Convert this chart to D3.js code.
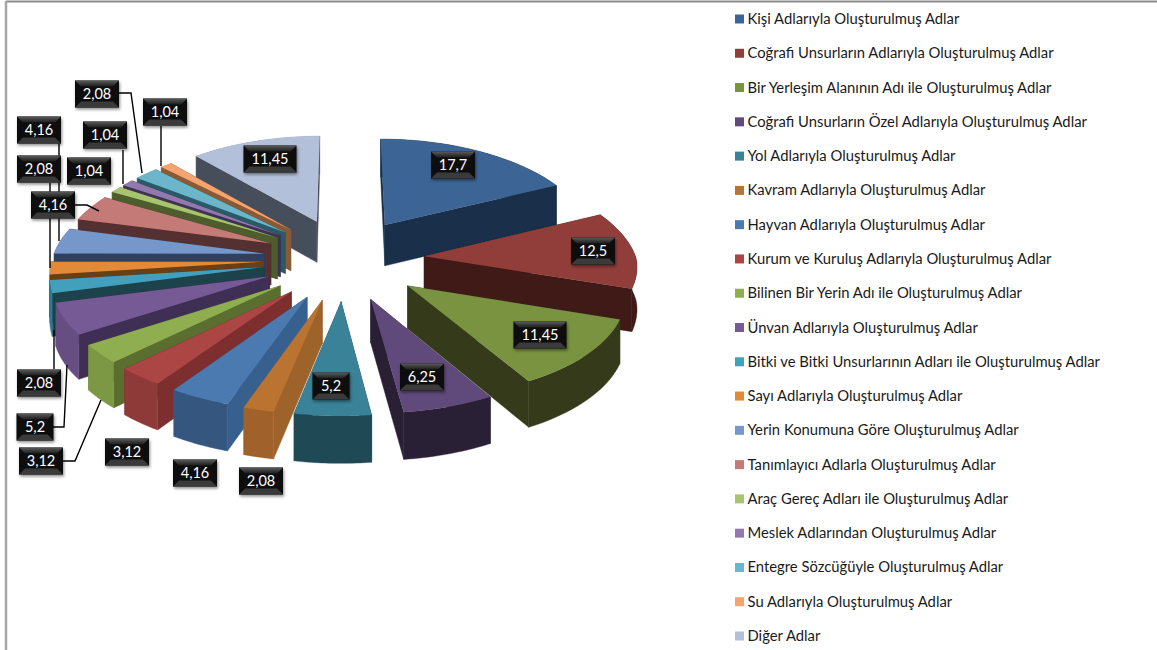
<!DOCTYPE html>
<html>
<head>
<meta charset="utf-8">
<script src="https://d3js.org/d3.v7.min.js"></script>
<style>
  body { margin: 0; background: #fff; }
  text { font-family: Lato, "Open Sans", sans-serif; }
</style>
</head>
<body>
<script>
let w = 1157;
let h = 650;

// data
const categories = [
  "Kişi Adlarıyla Oluşturulmuş Adlar",
  "Coğrafi Unsurların Adlarıyla Oluşturulmuş Adlar",
  "Bir Yerleşim Alanının Adı ile Oluşturulmuş Adlar",
  "Coğrafi Unsurların Özel Adlarıyla Oluşturulmuş Adlar",
  "Yol Adlarıyla Oluşturulmuş Adlar",
  "Kavram Adlarıyla Oluşturulmuş Adlar",
  "Hayvan Adlarıyla Oluşturulmuş Adlar",
  "Kurum ve Kuruluş Adlarıyla Oluşturulmuş Adlar",
  "Bilinen Bir Yerin Adı ile Oluşturulmuş Adlar",
  "Ünvan Adlarıyla Oluşturulmuş Adlar",
  "Bitki ve Bitki Unsurlarının Adları ile Oluşturulmuş Adlar",
  "Sayı Adlarıyla Oluşturulmuş Adlar",
  "Yerin Konumuna Göre Oluşturulmuş Adlar",
  "Tanımlayıcı Adlarla Oluşturulmuş Adlar",
  "Araç Gereç Adları ile Oluşturulmuş Adlar",
  "Meslek Adlarından Oluşturulmuş Adlar",
  "Entegre Sözcüğüyle Oluşturulmuş Adlar",
  "Su Adlarıyla Oluşturulmuş Adlar",
  "Diğer Adlar"
];
const values = [17.7, 12.5, 11.45, 6.25, 5.2, 2.08, 4.16, 3.12, 3.12, 5.2, 2.08, 2.08, 4.16, 4.16, 1.04, 1.04, 2.08, 1.04, 11.45];

// colours: top face, flat side, rounded side
const topColors = ["#3c6596", "#913e3b", "#7a9340", "#5f4a7b", "#3a8298", "#bb7331", "#4a7ab0", "#ab4644", "#8fae50", "#765a96", "#42a0bc", "#e28a37", "#7597c9", "#c47b78", "#a8c46f", "#9179ae", "#6cb6cc", "#f5a46f", "#b2c0da"];
const wallColors = ["#1a2f49", "#3f1a16", "#353a1b", "#2a2036", "#1f4a55", "#9e632a", "#38608e", "#7c2f2e", "#5a6e30", "#3f2f55", "#1c434c", "#6b3f15", "#2f4060", "#553030", "#4d5d2e", "#3f3256", "#2a5a68", "#8a5a37", "#464e5c"];
const arcColors = ["#1a2f49", "#3f1a16", "#353a1b", "#2a2036", "#1f4a55", "#a0612b", "#35577f", "#8e3a38", "#7c9845", "#664e82", "#2d7a90", "#c47a30", "#5f7ca8", "#a96663", "#8da65c", "#7a6595", "#5a9cb0", "#d08a5c", "#96a4bd"];

// label box centres and their leader lines, placed by hand like in the original
const labelPos = [[453,165],[593,251],[540,335],[422,377],[331,386],[261,481],[195,473],[127,452],[41,461],[35,427],[39,383],[39,169],[39,130],[53,205],[89,171],[105,135],[97,94],[165,112],[270,159]];
const leaders = [null,null,null,null,null,null,null,null,
  [[63,461],[75,461],[101,400]],
  [[53,427],[64,427],[67,365]],
  [[54,369],[54,330]],
  [[50,183],[50,268]],
  [[59,143],[59,241]],
  [[75,205],[87,205],[99,211]],
  null,
  [[123,150],[123,184]],
  [[118,93],[131,93],[142,173]],
  [[161,126],[161,166]],
  null];

// geometry of the exploded pie
let explodeX = 0.38;
let explodeV = 0.42;
let persp = 0.08;
let perspBack = 0.12;
let depth = 42;
let xScale = d3.scaleLinear().domain([0, 1]).range([344, 556]);
let yScale = d3.scaleLinear().domain([0, 1]).range([259, 161]);

function project(x, v, low) {
  let s = 1 / (1 + persp * v);
  let sx = v > 0 ? 1 / (1 + perspBack * v) : s;
  return [xScale(x * sx), yScale(v * s) + (low ? depth * s : 0)];
}

let viz = d3.select("body").append("svg")
    .attr("width", w)
    .attr("height", h)
    .style("display", "block")
;

// frame
viz.append("line").attr("x1", 6).attr("x2", w).attr("y1", 1.5).attr("y2", 1.5)
    .attr("stroke", "#8c8c8c").attr("stroke-width", 2);
viz.append("line").attr("x1", 6).attr("x2", 6).attr("y1", 1).attr("y2", h)
    .attr("stroke", "#a6a6a6").attr("stroke-width", 2.5);

let defs = viz.append("defs");
let shadow = defs.append("filter").attr("id", "shadow")
    .attr("x", "-20%").attr("y", "-20%").attr("width", "140%").attr("height", "150%");
shadow.append("feDropShadow").attr("dx", 1).attr("dy", 2).attr("stdDeviation", 1.5)
    .attr("flood-color", "#000").attr("flood-opacity", 0.45);
let grad = defs.append("linearGradient").attr("id", "bevel")
    .attr("x1", 0).attr("x2", 0).attr("y1", 0).attr("y2", 1);
grad.append("stop").attr("offset", 0).attr("stop-color", "#5c5c5c");
grad.append("stop").attr("offset", 1).attr("stop-color", "#1c1c1c");

let pie = d3.pie().sort(null).value(d => d)(values);
let lineMaker = d3.line();

let slices = pie.map(function(d, i) {
  let mid = (d.startAngle + d.endAngle) / 2;
  let ox = explodeX * Math.sin(mid);
  let ov = explodeV * Math.cos(mid);
  let steps = d3.range(0, 21).map(k => d.startAngle + (d.endAngle - d.startAngle) * k / 20);
  let rim = steps.map(a => [ox + Math.sin(a), ov + Math.cos(a)]);
  return {i: i, ox: ox, ov: ov, rim: rim};
});

// back slices first
let drawOrder = slices.slice().sort((a, b) => b.ov - a.ov);

let pieG = viz.append("g");
drawOrder.forEach(function(s) {
  let g = pieG.append("g").attr("class", "slice");
  let apex = [s.ox, s.ov];
  let first = s.rim[0];
  let last = s.rim[s.rim.length - 1];

  function wall(pts) {
    let up = pts.map(p => project(p[0], p[1], false));
    let down = pts.map(p => project(p[0], p[1], true)).reverse();
    return lineMaker(up.concat(down)) + "Z";
  }

  let parts = [
    {pts: [apex, first], fill: wallColors[s.i]},
    {pts: [apex, last], fill: wallColors[s.i]},
    {pts: s.rim, fill: arcColors[s.i]}
  ];
  parts.forEach(p => p.v = d3.mean(p.pts, q => q[1]));
  parts.sort((a, b) => b.v - a.v);
  parts.forEach(function(p) {
    g.append("path").attr("d", wall(p.pts)).attr("fill", p.fill)
        .attr("stroke", p.fill).attr("stroke-width", 0.4);
  });

  let topPts = [apex].concat(s.rim).map(p => project(p[0], p[1], false));
  g.append("path").attr("d", lineMaker(topPts) + "Z").attr("fill", topColors[s.i]);
});

// leader lines
viz.selectAll(".leader").data(leaders.filter(d => d)).enter()
    .append("path")
    .attr("class", "leader")
    .attr("d", d => lineMaker(d))
    .attr("fill", "none")
    .attr("stroke", "#000")
    .attr("stroke-width", 1.4)
;

// data labels
let labels = viz.selectAll(".label").data(values).enter()
    .append("g")
    .attr("class", "label")
    .attr("transform", (d, i) => "translate(" + labelPos[i][0] + "," + labelPos[i][1] + ")");

function labelText(d) { return String(d).replace(".", ","); }
function labelW(d) { let n = labelText(d).length; return n >= 5 ? 53 : n == 3 ? 37 : 44; }
let bh = 27, bev = 6;

labels.append("rect")
    .attr("x", d => -labelW(d) / 2).attr("y", -bh / 2)
    .attr("width", labelW).attr("height", bh)
    .attr("fill", "#0a0a0a").attr("filter", "url(#shadow)");
labels.append("path")
    .attr("d", function(d) {
      let b = labelW(d) / 2;
      return lineMaker([[-b,-bh/2],[b,-bh/2],[b-bev,-bh/2+bev],[-b+bev,-bh/2+bev]]) + "Z";
    })
    .attr("fill", "url(#bevel)");
labels.append("path")
    .attr("d", function(d) {
      let b = labelW(d) / 2;
      return lineMaker([[-b,bh/2],[b,bh/2],[b-bev,bh/2-bev],[-b+bev,bh/2-bev]]) + "Z";
    })
    .attr("fill", "#3a3a3a");
labels.append("text")
    .text(labelText)
    .attr("text-anchor", "middle")
    .attr("y", 5)
    .attr("font-size", 14.5)
    .attr("fill", "#fff");

// legend
let legendY = d3.scalePoint().domain(categories).range([19, 636]);
let legend = viz.selectAll(".legend").data(categories).enter()
    .append("g")
    .attr("class", "legend")
    .attr("transform", d => "translate(735," + legendY(d) + ")");
legend.append("rect")
    .attr("x", 0).attr("y", -4.5)
    .attr("width", 9).attr("height", 9)
    .attr("fill", (d, i) => topColors[i]);
legend.append("text")
    .text(d => d)
    .attr("x", 12.5)
    .attr("y", 5)
    .attr("font-size", 14.8)
    .attr("fill", "#1a1a1a");
</script>
</body>
</html>
